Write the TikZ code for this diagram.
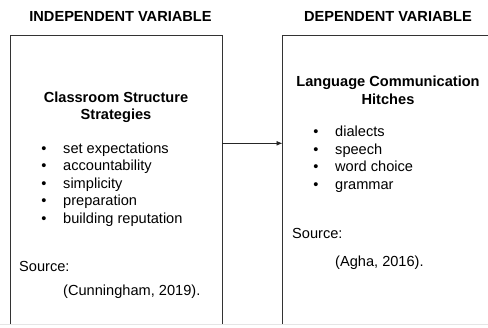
\documentclass[tikz,border=0pt]{standalone}
\usepackage{fontspec}
\setmainfont{Liberation Sans}
\usetikzlibrary{arrows.meta}
\tikzset{
    boxline/.style={draw=black!80, line width=0.9bp},
    varbox/.style={minimum height=289bp, anchor=north west, inner sep=0pt},
    headtext/.style={font=\bfseries\fontsize{14.6bp}{17.5bp}\selectfont, inner sep=0pt, anchor=base},
    bodytext/.style={font=\fontsize{14.6bp}{17.5bp}\selectfont, inner sep=0pt, anchor=base west},
    bulletdot/.style={font=\fontsize{14.6bp}{17.5bp}\selectfont, inner sep=0pt, anchor=base},
}
\begin{document}
\begin{tikzpicture}[x=1bp,y=-1bp]
        \useasboundingbox (0,0) rectangle (488,327);
        % headings
        \node[headtext] (indep) at (120.5,21.5) {INDEPENDENT VARIABLE};
        \node[headtext] (dep) at (388,21.5) {DEPENDENT VARIABLE};
        
        % boxes
        \node[varbox, minimum width=212bp] (ivbox) at (10,35.5) {};
        \node[varbox, minimum width=211bp] (dvbox) at (282.5,35.5) {};
        \draw[boxline] (ivbox.south west) |- (ivbox.north east) -- (ivbox.south east);
        \draw[boxline] (dvbox.south west) |- (dvbox.north east) -- (dvbox.south east);
        \draw[black!10, line width=0.8bp] (0,324.5) -- (488,324.5);
        
        % independent variable
        \node[headtext] (ivtitle) at (116,102) {Classroom Structure};
        \node[headtext] (ivtitle2) at (116,119.5) {Strategies};
        \foreach \y/\txt in {153/set expectations, 170.5/accountability, 188/simplicity, 205.5/preparation, 223/building reputation}{
            \node[bulletdot] at (44,\y) {\textbullet};
            \node[bodytext] at (63,\y) {\txt};
        }
        \node[bodytext] (ivsrc) at (19,271) {Source:};
        \node[bodytext] (ivcite) at (63,295.5) {(Cunningham, 2019).};
        
        % dependent variable
        \node[headtext] (dvtitle) at (388,86.5) {Language Communication};
        \node[headtext] (dvtitle2) at (388,104) {Hitches};
        \foreach \y/\txt in {136.5/dialects, 154/speech, 171.5/word choice, 189/grammar}{
            \node[bulletdot] at (316,\y) {\textbullet};
            \node[bodytext] at (335,\y) {\txt};
        }
        \node[bodytext] (dvsrc) at (292,238) {Source:};
        \node[bodytext] (dvcite) at (335,266.5) {(Agha, 2016).};
        
        % link
        \coordinate (linky) at (0,143.3);
        \draw[-{Latex[length=6bp,width=5bp]}, black!85, line width=0.9bp] (ivbox.east |- linky) -- (dvbox.west |- linky);
        
\end{tikzpicture}
\end{document}
